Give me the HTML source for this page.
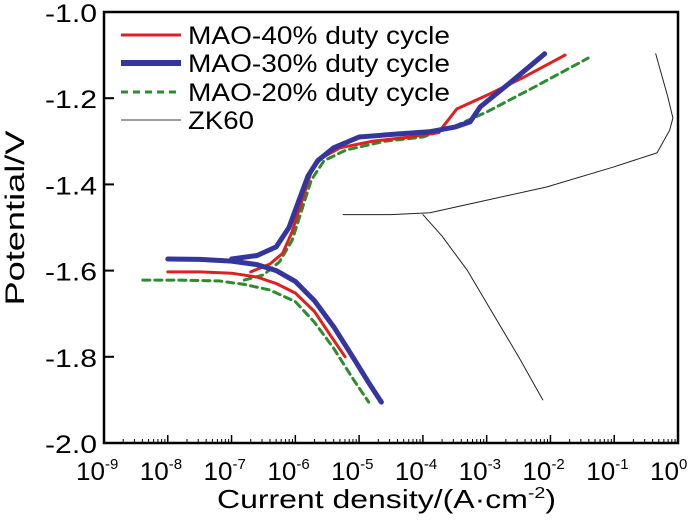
<!DOCTYPE html>
<html><head><meta charset="utf-8"><style>
body{margin:0;background:#fff;}
svg{display:block;font-family:"Liberation Sans",sans-serif;}
</style></head><body>
<svg id="chart" width="700" height="524" viewBox="0 0 700 524">
<g id="plot"></g>
<g id="axes"></g>
<g id="legend"></g>
</svg>
<script>
const xTicks=[-9,-8,-7,-6,-5,-4,-3,-2,-1,0];
const yTicks=[-1.0,-1.2,-1.4,-1.6,-1.8,-2.0];
const yTickLabels=["-1.0","-1.2","-1.4","-1.6","-1.8","-2.0"];
// series as [log10(i), E]
const mao40Cath=[[-8,-1.603],[-7.5,-1.603],[-7,-1.606],[-6.6,-1.615],[-6.3,-1.63],[-6,-1.652],[-5.7,-1.695],[-5.45,-1.75],[-5.22,-1.80]];
const mao40Anod=[[-6.7,-1.603],[-6.4,-1.585],[-6.2,-1.56],[-6.05,-1.51],[-5.9,-1.44],[-5.75,-1.37],[-5.6,-1.34],[-5.3,-1.315],[-4.8,-1.30],[-4.2,-1.29],[-3.75,-1.28],[-3.68,-1.265],[-3.6,-1.25],[-3.47,-1.225],[-2.95,-1.19],[-2.4,-1.15],[-1.77,-1.10]];
const mao30Cath=[[-8,-1.573],[-7.5,-1.574],[-7,-1.578],[-6.6,-1.586],[-6.3,-1.60],[-6.0,-1.625],[-5.7,-1.67],[-5.4,-1.73],[-5.1,-1.80],[-4.85,-1.86],[-4.65,-1.905]];
const mao30Anod=[[-7.0,-1.573],[-6.6,-1.565],[-6.3,-1.545],[-6.1,-1.50],[-5.95,-1.44],[-5.8,-1.38],[-5.65,-1.345],[-5.4,-1.315],[-5.0,-1.29],[-4.4,-1.283],[-3.9,-1.278],[-3.5,-1.267],[-3.26,-1.255],[-3.1,-1.22],[-2.6,-1.16],[-2.09,-1.097]];
const mao20Cath=[[-8.39,-1.622],[-7.8,-1.622],[-7.2,-1.624],[-6.8,-1.632],[-6.4,-1.645],[-6.0,-1.672],[-5.7,-1.72],[-5.4,-1.78],[-5.1,-1.85],[-4.85,-1.905]];
const mao20Anod=[[-6.8,-1.622],[-6.5,-1.61],[-6.25,-1.58],[-6.05,-1.53],[-5.9,-1.46],[-5.75,-1.39],[-5.55,-1.345],[-5.2,-1.32],[-4.6,-1.30],[-4.0,-1.29],[-3.5,-1.265],[-3.0,-1.232],[-2.2,-1.17],[-1.41,-1.107]];
const zkAnod=[[-5.25,-1.47],[-4.5,-1.47],[-3.89,-1.466],[-3.1,-1.44],[-2.06,-1.406],[-1.02,-1.36],[-0.33,-1.327],[-0.13,-1.274],[-0.08,-1.246],[-0.16,-1.197],[-0.35,-1.097]];
const zkCath=[[-4.0,-1.47],[-3.7,-1.52],[-3.3,-1.60],[-2.9,-1.70],[-2.5,-1.80],[-2.12,-1.90]];
const legendLabels=["MAO-40% duty cycle","MAO-30% duty cycle","MAO-20% duty cycle","ZK60"];

const X0=104,X1=678,Y0=12,Y1=443;
const xs=v=>X0+(v+9)/9*(X1-X0);
const ys=v=>Y0+(-1.0-v)/1.0*(Y1-Y0);
const NS="http://www.w3.org/2000/svg";
function mk(tag,attrs,parent){const e=document.createElementNS(NS,tag);for(const k in attrs)e.setAttribute(k,attrs[k]);parent.appendChild(e);return e;}
const plot=document.getElementById('plot'),axes=document.getElementById('axes'),legend=document.getElementById('legend');
function line(data,stroke,w,dash,name){
  const d=data.map((p,i)=>(i?'L':'M')+xs(p[0]).toFixed(1)+','+ys(p[1]).toFixed(1)).join(' ');
  const p=mk('path',{d:d,fill:'none',stroke:stroke,'stroke-width':w,'stroke-linejoin':'round','stroke-linecap':'round'},plot);
  if(dash)p.setAttribute('stroke-dasharray',dash);
  
  
}
line(zkAnod,'#222',1,null,'zk60-anodic-line');
line(zkCath,'#222',1,null,'zk60-cathodic-line');
line(mao20Cath,'#2e8b2e',3,'7,5','mao20-cathodic-line');
line(mao20Anod,'#2e8b2e',3,'7,5','mao20-anodic-line');
line(mao40Cath,'#e02020',3,null,'mao40-cathodic-line');
line(mao40Anod,'#e02020',3,null,'mao40-anodic-line');
line(mao30Cath,'#3535a0',5,null,'mao30-cathodic-line');
line(mao30Anod,'#3535a0',5,null,'mao30-anodic-line');

const fr=mk('rect',{x:X0,y:Y0,width:X1-X0,height:Y1-Y0,fill:'none',stroke:'#000','stroke-width':2.5},axes);


yTicks.forEach((v,i)=>{
  const y=ys(v);
  mk('line',{x1:X0,x2:X0+10,y1:y,y2:y,stroke:'#000','stroke-width':2},axes);
  const t=mk('text',{x:97,y:y+10,'text-anchor':'end','font-size':25,textLength:52,lengthAdjust:'spacingAndGlyphs'},axes);
  t.textContent=yTickLabels[i];
  
  
});
xTicks.forEach((v,i)=>{
  const x=xs(v);
  mk('line',{x1:x,x2:x,y1:Y1,y2:Y1-8,stroke:'#000','stroke-width':1.5},axes);
  if(i<xTicks.length-1){for(let m=2;m<10;m++){const xm=xs(v+Math.log10(m));mk('line',{x1:xm,x2:xm,y1:Y1,y2:Y1-4,stroke:'#000','stroke-width':1},axes);}}
  const t=mk('text',{x:x-28,y:480,'font-size':25},axes);
  t.innerHTML='<tspan textLength="29" lengthAdjust="spacingAndGlyphs">10</tspan><tspan dy="-11" font-size="15">'+v+'</tspan>';
  
  
});
const xt=mk('text',{x:217,y:508,'font-size':26,textLength:339,lengthAdjust:'spacingAndGlyphs'},axes);
xt.innerHTML='Current density/(A·cm<tspan dy="-10" font-size="16">-2</tspan><tspan dy="10">)</tspan>';


const yt=mk('text',{x:24,y:218,'text-anchor':'middle','font-size':27,textLength:175,lengthAdjust:'spacingAndGlyphs',transform:'rotate(-90 24 218)'},axes);
yt.textContent='Potential/V';



const lsty=[['#e02020',3,null],['#3535a0',6,null],['#2e8b2e',3,'7,5'],['#666',1.2,null]];
const ly=[35,63,92,120];
const lw=[262,262,262,66];
legendLabels.forEach((s,i)=>{
  const g=mk('g',{},legend);
  
  
  const l=mk('line',{x1:121,x2:181,y1:ly[i],y2:ly[i],stroke:lsty[i][0],'stroke-width':lsty[i][1]},g);
  if(lsty[i][2])l.setAttribute('stroke-dasharray',lsty[i][2]);
  const t=mk('text',{x:188,y:ly[i]+9,'font-size':25,textLength:lw[i],lengthAdjust:'spacingAndGlyphs'},g);
  t.textContent=s;
});
</script>
</body></html>
